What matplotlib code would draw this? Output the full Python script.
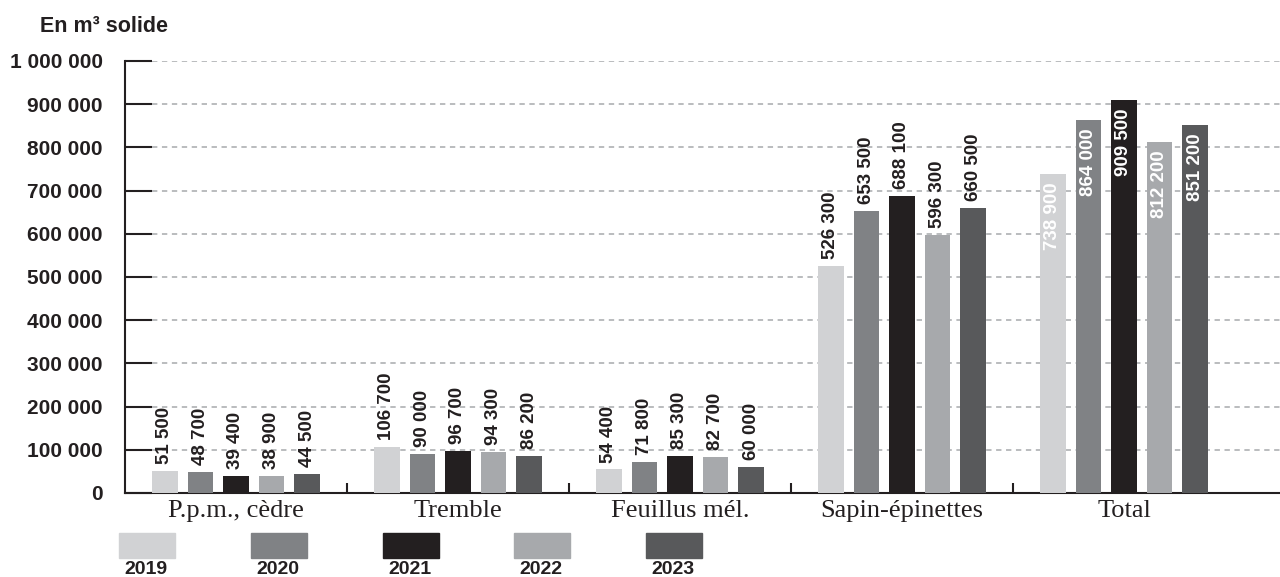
"""Bar chart: volumes harvested per species group, 2019-2023."""
import matplotlib
matplotlib.use("Agg")
import matplotlib.pyplot as plt
from matplotlib.patches import Rectangle

# Data
categories = ["P.p.m., cèdre", "Tremble", "Feuillus mél.", "Sapin-épinettes", "Total"]
years = ["2019", "2020", "2021", "2022", "2023"]
volumes = {
    "2019": [51500, 106700, 54400, 526300, 738900],
    "2020": [48700, 90000, 71800, 653500, 864000],
    "2021": [39400, 96700, 85300, 688100, 909500],
    "2022": [38900, 94300, 82700, 596300, 812200],
    "2023": [44500, 86200, 60000, 660500, 851200],
}
y_ticks = [0, 100000, 200000, 300000, 400000, 500000, 600000, 700000, 800000, 900000, 1000000]
y_tick_labels = ["0", "100 000", "200 000", "300 000", "400 000", "500 000",
                 "600 000", "700 000", "800 000", "900 000", "1 000 000"]

colors = ["#d1d2d4", "#808285", "#231f20", "#a7a9ac", "#58595b"]
DARK = "#231f20"
GOLD = "#c8a21e"
SANS = ["Liberation Sans", "DejaVu Sans"]
SERIF = ["Liberation Serif", "DejaVu Serif"]


def fmt(v):
    return f"{v:,}".replace(",", " ")


fig = plt.figure(figsize=(12.8, 5.77), dpi=100)
ax = fig.add_axes([125 / 1280, 1 - 493 / 577, 1155 / 1280, 432 / 577])

pitch = 0.16
width = 0.113
x = list(range(len(categories)))

for j, year in enumerate(years):
    xs = [i + (j - 2) * pitch for i in x]
    ax.bar(xs, volumes[year], width=width, color=colors[j], zorder=3)
    for i, (xi, v) in enumerate(zip(xs, volumes[year])):
        inside = categories[i] == "Total"
        ax.annotate(fmt(v), (xi, v),
                    xytext=(0, -6 if inside else 5), textcoords="offset points",
                    ha="center", va="top" if inside else "bottom",
                    rotation=90, fontsize=13.5, fontweight="bold",
                    family=SANS, color="white" if inside else DARK, zorder=4)

ax.set_xlim(-0.5, 1155 / 222 - 0.5)
ax.set_ylim(0, 1000000)

# Spines
for s in ["top", "right"]:
    ax.spines[s].set_visible(False)
for s in ["left", "bottom"]:
    ax.spines[s].set_linewidth(1.5)
    ax.spines[s].set_color(DARK)

# Y axis: ticks pointing inwards, dashed grid continuing after them
ax.set_yticks(y_ticks)
ax.set_yticklabels(y_tick_labels, family=SANS, fontweight="bold", fontsize=15, color=DARK)
ax.tick_params(axis="y", direction="in", length=19.5, width=1.5, color=DARK, pad=16)
for t, val in zip(ax.yaxis.get_major_ticks(), y_ticks):
    if val in (400000, 500000):
        t.tick1line.set_color(GOLD)
tick_end = 27 / 1155
ax.hlines(y_ticks[1:], tick_end, 1, transform=ax.get_yaxis_transform(),
          colors="#a7a9ac", linestyles=(0, (3.5, 3)), linewidth=1.1, zorder=1)

# X axis: category labels, small separators between groups
ax.set_xticks(x)
ax.set_xticklabels(categories, family=SERIF, fontsize=19, color=DARK)
ax.tick_params(axis="x", which="major", length=0, pad=5)
ax.set_xticks([i + 0.5 for i in x[:-1]], minor=True)
ax.tick_params(axis="x", which="minor", direction="in", length=7, width=1.5, color=DARK)

# Title
fig.text(40 / 1280, 1 - 27 / 577, "En m³ solide", family=SANS, fontweight="bold",
         fontsize=15.5, color=DARK, ha="left", va="center")

# Legend: swatch with year below
for j, year in enumerate(years):
    x0 = 119 + j * 131.75
    fig.patches.append(Rectangle((x0 / 1280, 1 - 558 / 577), 56 / 1280, 25 / 577,
                                 transform=fig.transFigure, color=colors[j]))
    fig.text((x0 + 27) / 1280, 1 - 569 / 577, year, family=SANS, fontweight="bold",
             fontsize=14, color=DARK, ha="center", va="center")

fig.savefig("out.png", dpi=100)
